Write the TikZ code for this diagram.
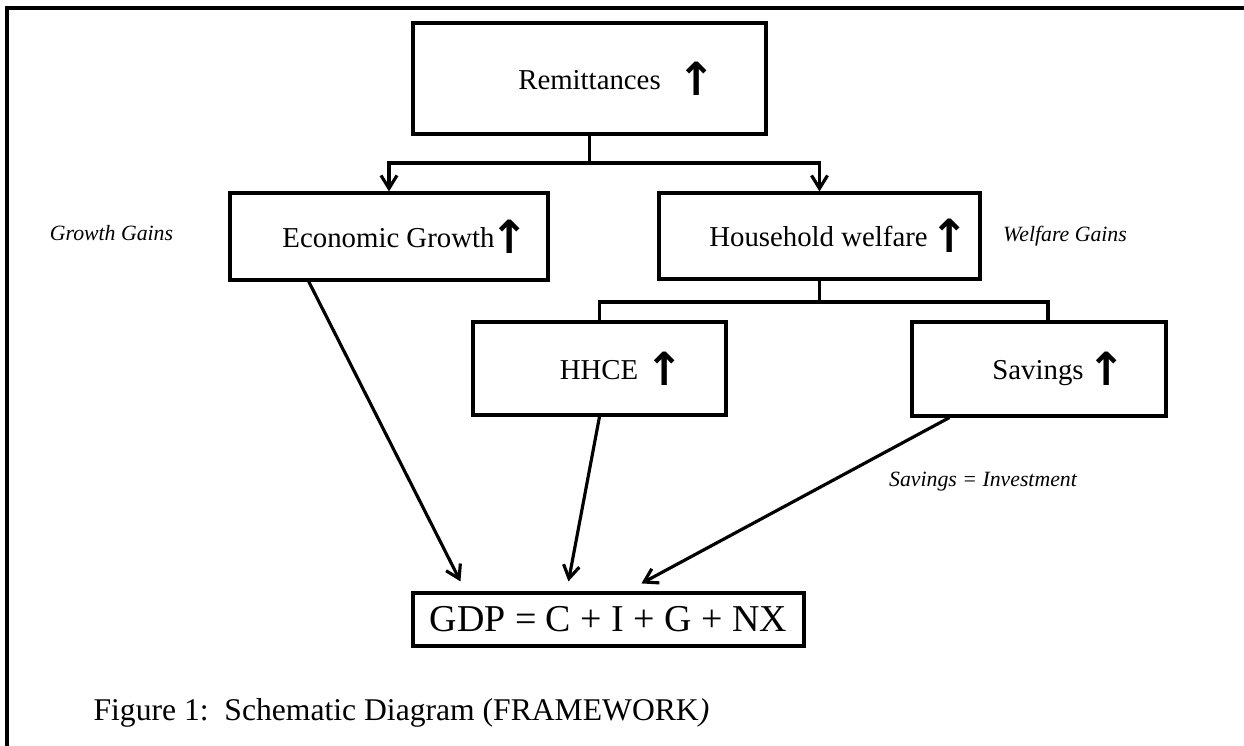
\documentclass[tikz,border=0pt]{standalone}
\usepackage{fontspec}
\setmainfont{Liberation Serif}
\newfontfamily\arrowfont{DejaVu Sans}
\usetikzlibrary{calc,positioning}
\usetikzlibrary{arrows.meta}
\tikzset{>={Straight Barb[width=3.2mm,length=2.6mm]}}
\newcommand{\upmark}{\makebox[0.34cm]{\raisebox{-0.12cm}{\arrowfont\bfseries\fontsize{26}{26}\selectfont ↑}}}

\begin{document}
\begin{tikzpicture}[x=0.02cm, y=0.02cm, line width=1.8pt]
      \tikzstyle{box} = [draw, rectangle, inner sep = 0pt, font=\fontsize{16.4}{20}\selectfont]
      \tikzstyle{gain} = [inner sep = 0pt, font=\itshape\fontsize{12.4}{15}\selectfont]

      \useasboundingbox (0,0) rectangle (1244,-746);
      \draw (1244,-8) -- (7,-8) -- (7,-746);

      \node[box, minimum width=7.06cm, minimum height=2.22cm] (remit) at (589.5,-78.5)
        {\hspace*{0.88cm}Remittances\hspace{0.54cm}\upmark};
      \node[box, minimum width=6.36cm, minimum height=1.74cm] (growth) at (389,-236.5)
        {\hspace*{0.46cm}Economic Growth\hspace{0.14cm}\upmark};
      \node[box, minimum width=6.42cm, minimum height=1.72cm] (welfare) at (819.5,-236)
        {\hspace*{0.56cm}Household welfare\hspace{0.26cm}\upmark};
      \node[box, minimum width=5.06cm, minimum height=1.86cm] (hhce) at (599.5,-368.5)
        {\hspace*{0.68cm}HHCE\hspace{0.36cm}\upmark};
      \node[box, minimum width=5.08cm, minimum height=1.88cm] (save) at (1039,-369)
        {\hspace*{0.6cm}Savings\hspace{0.3cm}\upmark};
      \node[draw, inner sep = 0pt, minimum width=7.82cm, minimum height=1.06cm,
        font=\fontsize{21.6}{24}\selectfont] (gdp) at (608.5,-619.5) {GDP = C + I + G + NX};

      \node[gain] (ggain) at (111.5,-233) {Growth Gains};
      \node[gain] (wgain) at (1065,-236) {Welfare Gains};
      \node[gain] (sinv) at (983,-482) {Savings = Investment};
      \node[anchor=west, inner sep = 0pt, font=\fontsize{18}{21}\selectfont] (caption) at (92,-713)
        {Figure 1:\ \ Schematic Diagram (FRAMEWORK\textit{)}};

      \coordinate (split1) at (589.5,-163);
      \coordinate (split2) at (819.5,-302);

      \draw (remit) -- (split1);
      \draw[->] (split1) -| (growth);
      \draw[->] (split1) -| (welfare);
      \draw (welfare) -- (split2);
      \draw (split2) -| (hhce);
      \draw (split2) -| ($(save.north)+(9,0)$);

      \draw[->] ($(growth.south)!0.5!(growth.south west)$) -- ($(gdp.north west)+(49,10)$);
      \draw[->] (hhce.south) -- ($(gdp.north west)+(157,10)$);
      \draw[->] ($(save.south west)+(39,0)$) -- ($(gdp.north west)+(230,8)$);
\end{tikzpicture}
\end{document}
